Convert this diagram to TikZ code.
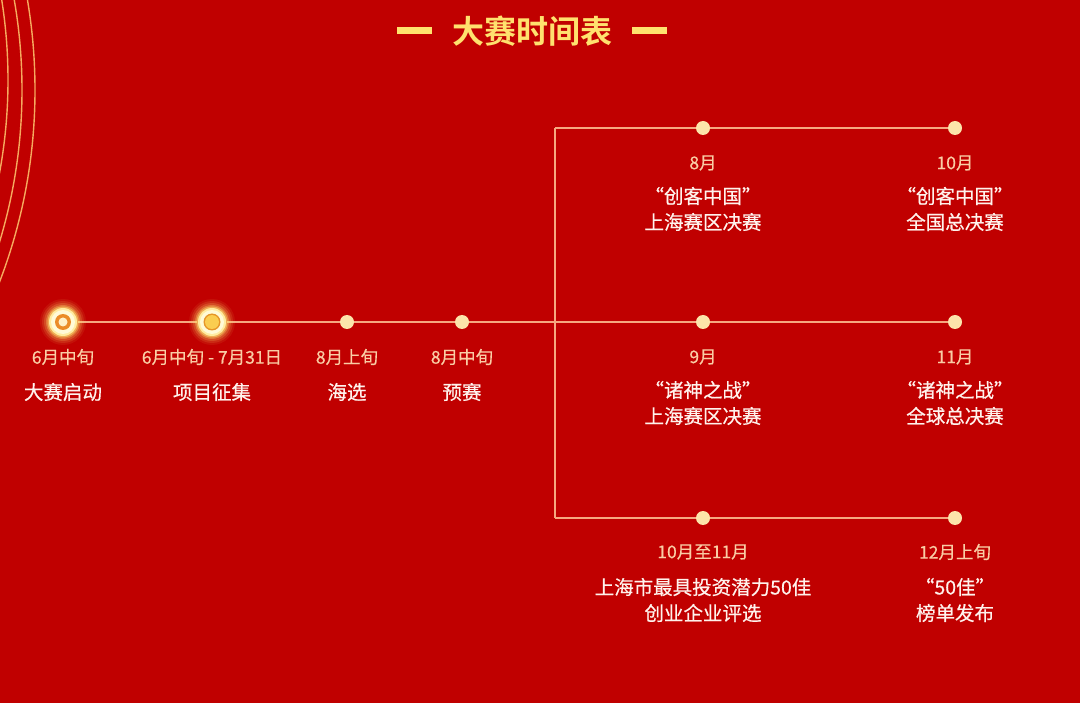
\documentclass[tikz,border=0pt]{standalone}
\usepackage{fontspec}
\newfontfamily\cjk{Noto Sans CJK SC}[BoldFont={Noto Sans CJK SC Bold}]
\newfontfamily\cjkm{Noto Sans CJK SC}[FakeBold=0.5]
\definecolor{bgred}{RGB}{192,0,0}
\definecolor{linec}{RGB}{246,168,128}
\definecolor{arcc}{RGB}{245,170,95}
\definecolor{dotc}{RGB}{252,228,170}
\definecolor{datec}{RGB}{250,205,165}
\definecolor{titc}{RGB}{255,242,236}
\definecolor{goldc}{RGB}{255,225,110}
\definecolor{ringA}{RGB}{255,236,160}
\definecolor{ringB}{RGB}{255,250,215}
\definecolor{coreA}{RGB}{235,140,40}
\definecolor{coreB}{RGB}{255,240,200}
\definecolor{coreC}{RGB}{230,150,40}
\definecolor{coreD}{RGB}{250,205,80}
\begin{document}
\begin{tikzpicture}[x=1pt,y=-1pt,
  dot/.style={circle,fill=dotc,inner sep=0pt,minimum size=14pt},
  tl/.style={line width=1.2pt,draw=linec},
  datelab/.style={text=datec,font=\cjkm\fontsize{17.5}{20}\selectfont,inner sep=0pt},
  evlab/.style={text=titc,font=\cjkm\fontsize{19.5}{26}\selectfont,align=center,inner sep=0pt},
  glowdot/.style={circle,inner sep=0pt,minimum size=30pt}]
\fill[bgred] (0,0) rectangle (1080,703);
\useasboundingbox (0,0) rectangle (1080,703);
% decorative arcs
\begin{scope}
\clip (0,0) rectangle (1080,703);
\foreach \r/\cy in {508/80,522/90,535/90}
  \draw[arcc,line width=1.4pt] (-500,\cy) circle[radius=\r];
\end{scope}
% title
\fill[goldc] (397,27) rectangle (432,34);
\fill[goldc] (632,27) rectangle (667,34);
\node[text=goldc,font=\cjk\bfseries\fontsize{32}{34}\selectfont] (title) at (532,31) {大赛时间表};
% nodes
\node[glowdot] (c1) at (63,322) {};
\node[glowdot] (c2) at (212,322) {};
\node[dot] (d3) at (347,322) {};
\node[dot] (d4) at (462,322) {};
\coordinate (jm) at (555,322);
\coordinate (jt) at (555,128);
\coordinate (jb) at (555,518);
\node[dot] (t1) at (703,128) {};
\node[dot] (t2) at (955,128) {};
\node[dot] (m1) at (703,322) {};
\node[dot] (m2) at (955,322) {};
\node[dot] (b1) at (703,518) {};
\node[dot] (b2) at (955,518) {};
% connectors
\draw[tl] (c1) -- (c2);
\draw[tl] (c2) -- (d3);
\draw[tl] (d3) -- (d4);
\draw[tl] (d4) -- (jm) -- (m1);
\draw[tl] (m1) -- (m2);
\draw[tl] (jt) -- (jb);
\draw[tl] (jt) -- (t1);
\draw[tl] (t1) -- (t2);
\draw[tl] (jb) -- (b1);
\draw[tl] (b1) -- (b2);
% glowing circles
\foreach \n in {c1,c2}{
  \foreach \rr/\op in {23/0.08,21/0.12,19/0.18,17/0.3,15.5/0.5}
    \fill[goldc,opacity=\op] (\n) circle[radius=\rr];
  \fill[ringA] (\n) circle[radius=14];
  \fill[ringB] (\n) circle[radius=12];
}
\fill[coreA] (c1) circle[radius=8];
\fill[coreB] (c1) circle[radius=4.5];
\fill[coreC] (c2) circle[radius=8.5];
\fill[coreD] (c2) circle[radius=7];
% labels
\node[datelab] (l1a) at (63,357) {6月中旬};
\node[evlab] (l1b) at (63,392) {大赛启动};
\node[datelab] (l2a) at (212,357) {6月中旬 - 7月31日};
\node[evlab] (l2b) at (212,392) {项目征集};
\node[datelab] (l3a) at (347,357) {8月上旬};
\node[evlab] (l3b) at (347,392) {海选};
\node[datelab] (l4a) at (462,357) {8月中旬};
\node[evlab] (l4b) at (462,392) {预赛};
\node[datelab] (t1a) at (703,163) {8月};
\node[evlab] (t1b) at (703,209) {“创客中国”\\上海赛区决赛};
\node[datelab] (t2a) at (955,163) {10月};
\node[evlab] (t2b) at (955,209) {“创客中国”\\全国总决赛};
\node[datelab] (m1a) at (703,357) {9月};
\node[evlab] (m1b) at (703,403) {“诸神之战”\\上海赛区决赛};
\node[datelab] (m2a) at (955,357) {11月};
\node[evlab] (m2b) at (955,403) {“诸神之战”\\全球总决赛};
\node[datelab] (b1a) at (703,552) {10月至11月};
\node[evlab] (b1b) at (703,600) {上海市最具投资潜力50佳\\创业企业评选};
\node[datelab] (b2a) at (955,552) {12月上旬};
\node[evlab] (b2b) at (955,600) {“50佳”\\榜单发布};
\end{tikzpicture}
\end{document}
